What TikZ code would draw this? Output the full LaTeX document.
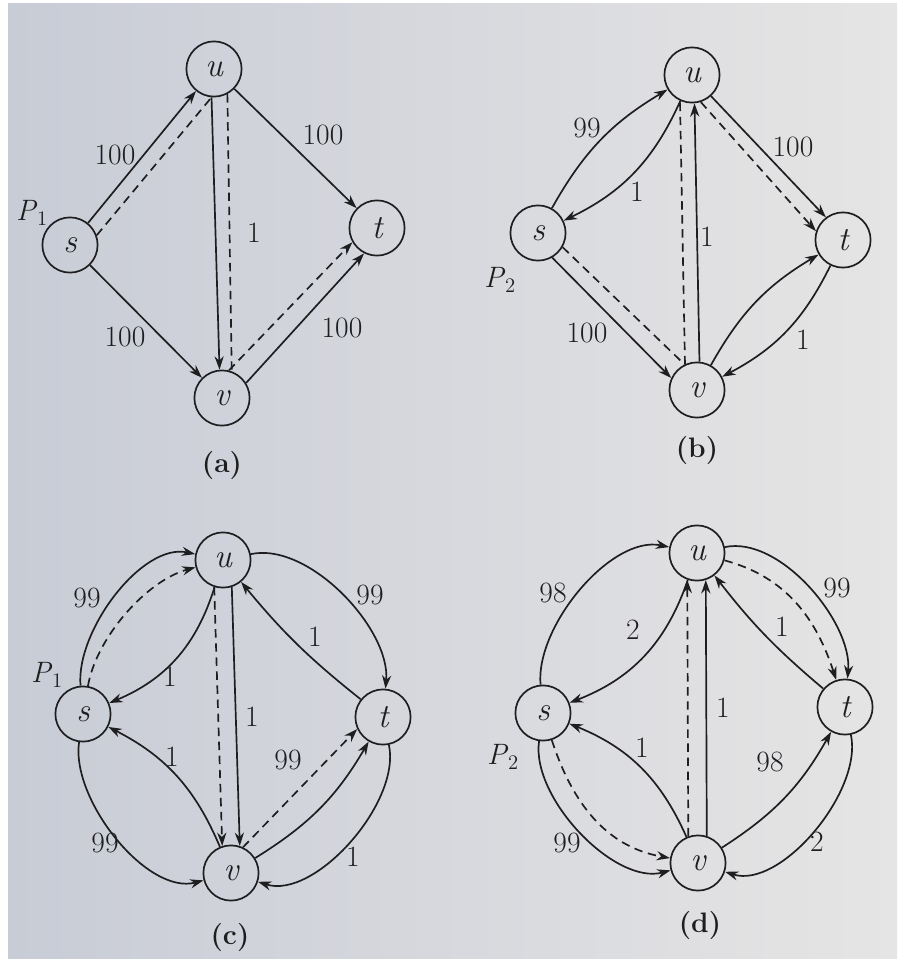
\documentclass[tikz,border=0pt]{standalone}
\usepackage{fontspec}
\usepackage{tikz}
\usetikzlibrary{arrows.meta}
\definecolor{Ink}{RGB}{30,30,32}
\definecolor{PaperDark}{RGB}{200,204,214}
\definecolor{PaperLight}{RGB}{230,229,229}

\begin{document}
\begin{tikzpicture}[x=0.025cm, y=0.025cm,
    vtx/.style={circle, draw=Ink, line width=1.2pt, minimum size=1.38cm, inner sep=0pt, font=\fontsize{24}{24}\selectfont\itshape, text=Ink},
    arr/.style={draw=Ink, line width=1.2pt, -{Stealth[length=9.5pt, width=6.5pt]}},
    aug/.style={draw=Ink, line width=1.2pt, dash pattern=on 6pt off 4pt},
    lab/.style={font=\fontsize{21}{21}\selectfont, text=Ink, inner sep=1pt},
    tag/.style={font=\fontsize{20}{20}\selectfont\bfseries, text=Ink}]
  % paper
  \fill[white] (0,0) rectangle (897,-959);
  \shade[left color=PaperDark, right color=PaperLight] (8,-4) rectangle (897,-959);

  % vertices of the four panels
  \foreach \n/\l/\x/\y in {
    sa/s/70/245, ua/u/214/69, ta/t/377/228, va/v/222/398,
    sb/s/538/233, ub/u/692/75, tb/t/843/240, vb/v/697/390,
    sc/s/83/714, uc/u/223/560, tc/t/383/717, vc/v/231/873,
    sd/s/543/713, ud/u/697/553, td/t/845/707, vd/v/698/863}
    \node[vtx] (\n) at (\x,-\y) {\l};

  % capacities
  \foreach \x/\y/\c [count=\i] in {
    115/155/100, 323/135/100, 254/233/1, 125/337/100, 342/328/100,
    587/128/99, 637/192/1, 793/147/100, 707/237/1, 587/333/100, 803/340/1,
    87/598/99, 370/595/99, 315/637/1, 170/677/1, 252/717/1, 172/757/1,
    288/760/99, 105/843/99, 353/857/1,
    553/593/98, 837/588/99, 633/630/2, 782/627/1, 723/708/1, 642/748/1,
    770/762/98, 567/843/99, 817/842/2}
    \node[lab] (w\i) at (\x,-\y) {\c};

  \node[lab] (pa) at (32,-213) {\textit{P}\textsubscript{1}};
  \node[lab] (pb) at (500,-280) {\textit{P}\textsubscript{2}};
  \node[lab] (pc) at (47,-675) {\textit{P}\textsubscript{1}};
  \node[lab] (pd) at (503,-757) {\textit{P}\textsubscript{2}};

  \node[tag] (taga) at (222,-465) {(a)};
  \node[tag] (tagb) at (697,-450) {(b)};
  \node[tag] (tagc) at (230,-937) {(c)};
  \node[tag] (tagd) at (700,-925) {(d)};

  % (a)
  \draw[arr] (sa) -- (ua);
  \draw[aug] (sa.20) -- (ua.265);
  \draw[arr] (ua) -- (ta);
  \draw[arr] (ua.265) -- (va.95);
  \draw[aug] (ua.298) -- (va.70);
  \draw[arr] (sa) -- (va);
  \draw[arr] (va.32) -- (ta.243);
  \draw[aug, arr] (va.76) -- (ta.210);

  % (b)
  \draw[arr] (sb) to[bend left=15] (ub);
  \draw[arr] (ub) to[bend left=20] (sb);
  \draw[arr] (ub.312) -- (tb.127);
  \draw[aug, arr] (ub.288) -- (tb.162);
  \draw[arr] (vb.85) -- (ub.275);
  \draw[aug] (vb.115) -- (ub.245);
  \draw[arr] (sb.300) -- (vb.155);
  \draw[aug] (sb.330) -- (vb.116);
  \draw[arr] (vb) to[bend left=15] (tb);
  \draw[arr] (tb) to[bend left=18] (vb);

  % (c)
  \draw[arr] (sc) to[out=95, in=168, looseness=0.8] (uc);
  \draw[aug, arr] (sc) to[out=80, in=195, looseness=0.8] (uc);
  \draw[arr] (uc) to[out=12, in=85, looseness=0.8] (tc);
  \draw[arr] (tc) to[bend left=6] (uc);
  \draw[arr] (uc) to[bend left=25] (sc);
  \draw[aug, arr] (uc.252) -- (vc.108);
  \draw[arr] (uc.288) -- (vc.72);
  \draw[arr] (vc) to[bend right=20] (sc);
  \draw[arr] (vc) to[bend right=14] (tc);
  \draw[aug, arr] (vc.65) -- (tc.205);
  \draw[arr] (sc) to[out=262, in=195, looseness=0.8] (vc);
  \draw[arr] (tc) to[out=282, in=342, looseness=0.8] (vc);

  % (d)
  \draw[arr] (sd) to[out=95, in=168, looseness=0.8] (ud);
  \draw[arr] (ud) to[bend left=25] (sd);
  \draw[arr] (ud) to[out=12, in=85, looseness=0.8] (td);
  \draw[aug, arr] (ud) to[out=345, in=108] (td);
  \draw[arr] (td) to[bend left=6] (ud);
  \draw[aug, arr] (vd.110) -- (ud.250);
  \draw[arr] (vd.72) -- (ud.288);
  \draw[arr] (vd) to[bend right=22] (sd);
  \draw[arr] (sd) to[out=262, in=195, looseness=0.8] (vd);
  \draw[aug, arr] (sd) to[out=288, in=170] (vd);
  \draw[arr] (vd) to[bend right=14] (td);
  \draw[arr] (td) to[out=282, in=342, looseness=0.8] (vd);
\end{tikzpicture}
\end{document}
